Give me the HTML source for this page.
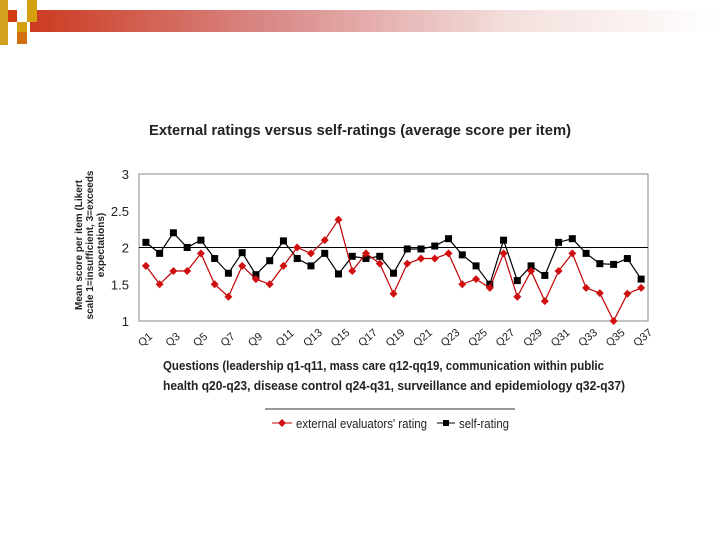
<!DOCTYPE html>
<html><head><meta charset="utf-8"><style>
body{margin:0;width:720px;height:540px;background:#fff;overflow:hidden;font-family:"Liberation Sans",sans-serif}
</style></head><body>
<svg width="720" height="540">
<defs><linearGradient id="g" x1="0" x2="1"><stop offset="0" stop-color="#cc3a20"/><stop offset="0.35" stop-color="#d98a88"/><stop offset="0.7" stop-color="#f3e0de"/><stop offset="1" stop-color="#fff"/></linearGradient></defs>
<rect x="30" y="10" width="690" height="22" fill="url(#g)"/>
<rect x="0" y="0" width="8" height="45" fill="#d4a020"/>
<rect x="8" y="10" width="9" height="12" fill="#d43c10"/>
<rect x="17" y="22" width="10" height="10" fill="#d4a010"/>
<rect x="27" y="10" width="10" height="12" fill="#d4a010"/>
<rect x="27" y="0" width="10" height="10" fill="#d4a010"/>
<rect x="17" y="32" width="10" height="12" fill="#d07010"/>
<text x="149" y="135" textLength="422" lengthAdjust="spacingAndGlyphs" font-size="15" font-weight="bold" fill="#222">External ratings versus self-ratings (average score per item)</text>
<g font-size="10" font-weight="bold" fill="#222" text-anchor="middle">
<text transform="translate(82,245) rotate(-90)">Mean score per item (Likert</text>
<text transform="translate(93,245) rotate(-90)">scale 1=insufficient, 3=exceeds</text>
<text transform="translate(104,245) rotate(-90)">expectations)</text></g>
<g font-size="13" font-weight="bold" fill="#222">
<text x="163" y="370" textLength="441" lengthAdjust="spacingAndGlyphs">Questions (leadership q1-q11, mass care q12-qq19, communication within public</text>
<text x="163" y="390" textLength="462" lengthAdjust="spacingAndGlyphs">health q20-q23, disease control q24-q31, surveillance and epidemiology q32-q37)</text></g>
<g id="chart"></g>
<line x1="265" y1="409" x2="515" y2="409" stroke="#333"/>
<g>
<line x1="272" y1="423" x2="292" y2="423" stroke="#c00000"/><path d="M282 419 L286 423 282 427 278 423Z" fill="#d01010"/>
<text x="296" y="428" font-size="13" fill="#222" textLength="131" lengthAdjust="spacingAndGlyphs">external evaluators' rating</text></g>
<g>
<line x1="437" y1="423" x2="455" y2="423" stroke="#000"/><rect x="443" y="420" width="6" height="6"/>
<text x="459" y="428" font-size="13" fill="#222" textLength="50" lengthAdjust="spacingAndGlyphs">self-rating</text></g>
</svg>
<script>
const categories=[];for(let i=1;i<=37;i++)categories.push('Q'+i);
const external=[1.75,1.5,1.68,1.68,1.92,1.5,1.33,1.75,1.57,1.5,1.75,2.0,1.92,2.1,2.38,1.68,1.92,1.78,1.37,1.78,1.85,1.85,1.92,1.5,1.57,1.45,1.92,1.33,1.68,1.27,1.68,1.92,1.45,1.38,1.0,1.37,1.45];
const selfRating=[2.07,1.92,2.2,2.0,2.1,1.85,1.65,1.93,1.63,1.82,2.09,1.85,1.75,1.92,1.64,1.88,1.85,1.88,1.65,1.98,1.98,2.02,2.12,1.9,1.75,1.5,2.1,1.55,1.75,1.62,2.07,2.12,1.92,1.78,1.77,1.85,1.57];
const yTicks=[1,1.5,2,2.5,3];
const L=139,R=648,T=174,B=321,ns='http://www.w3.org/2000/svg',g=document.getElementById('chart');
const step=(R-L)/categories.length;
const x=i=>L+step*(i+0.5), y=v=>B-(v-1)/2*(B-T);
function el(t,a,p){const e=document.createElementNS(ns,t);for(const k in a)e.setAttribute(k,a[k]);(p||g).appendChild(e);return e;}
const frame=el('rect',{x:L,y:T,width:R-L,height:B-T,fill:'none',stroke:'#888'});


yTicks.forEach(v=>{const t=el('text',{x:129,y:y(v)+5,'text-anchor':'end','font-size':13,fill:'#222'});t.textContent=v;

});
const ref=el('line',{x1:L,x2:R,y1:y(2),y2:y(2),stroke:'#000'});


categories.forEach((c,i)=>{if(i%2==0){const t=el('text',{transform:`translate(${x(i)-4},${B+26}) rotate(-40)`,'font-size':11,fill:'#222'});t.textContent=c;

}});
function series(data,color,name,sq){
const p=el('polyline',{points:data.map((v,i)=>x(i)+','+y(v)).join(' '),fill:'none',stroke:color,'stroke-width':1.2});


data.forEach((v,i)=>{let m;if(sq)m=el('rect',{x:x(i)-3.5,y:y(v)-3.5,width:7,height:7,fill:'#000'});
else m=el('path',{d:`M${x(i)} ${y(v)-4}L${x(i)+4} ${y(v)}L${x(i)} ${y(v)+4}L${x(i)-4} ${y(v)}Z`,fill:'#d01010'});

});}
series(selfRating,'#000','self-rating',true);
series(external,'#c00000','external-rating',false);
</script>
</body></html>
